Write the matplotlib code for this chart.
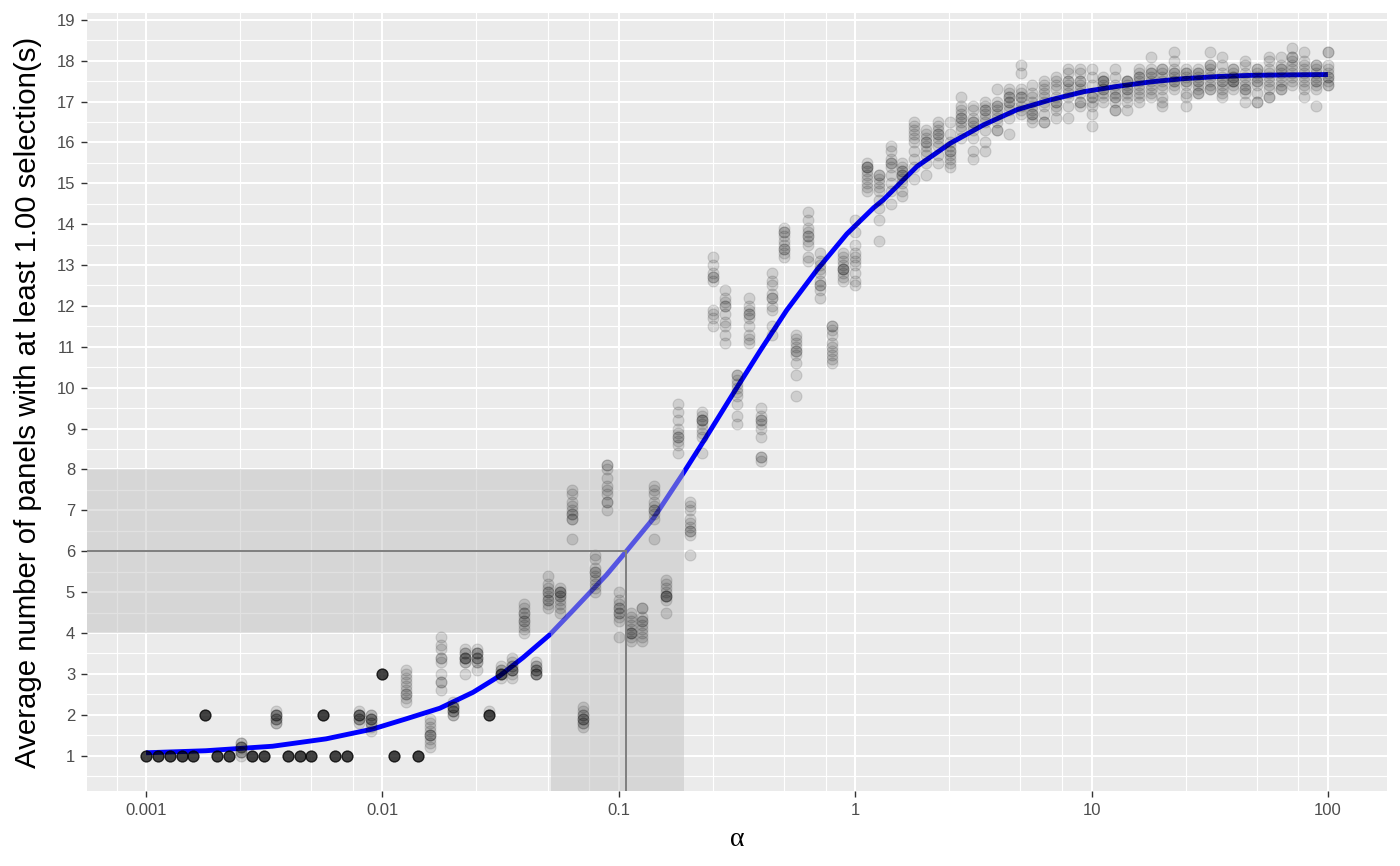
import numpy as np
import matplotlib.pyplot as plt
from matplotlib.ticker import FixedLocator, NullFormatter

plt.rcParams['font.family'] = ['Liberation Sans', 'DejaVu Sans']

# alpha grid: 20 steps per decade, 0.001 .. 100
mantissa = [1.00, 1.122, 1.259, 1.413, 1.585, 1.778, 1.995, 2.239, 2.512, 2.818,
            3.162, 3.548, 3.981, 4.467, 5.012, 5.623, 6.310, 7.079, 7.943, 8.913]
alpha_grid = [m * 10.0 ** d for d in range(-3, 2) for m in mantissa] + [100.0]

# average number of panels with >= 1 selection, 10 repeats per alpha
avg_panels = [
    [1.0] * 10, [1.0] * 10, [1.0] * 10, [1.0] * 10, [1.0] * 10,
    [2.0] * 10, [1.0] * 10, [1.0] * 10,
    [1.0, 1.1, 1.1, 1.2, 1.2, 1.2, 1.3, 1.3, 1.1, 1.2],
    [1.0] * 10, [1.0] * 10,
    [1.8, 1.9, 1.9, 2.0, 2.0, 2.0, 2.1, 1.9, 2.0, 1.8],
    [1.0] * 10, [1.0] * 10, [1.0] * 10, [2.0] * 10, [1.0] * 10, [1.0] * 10,
    [1.9, 2.0, 2.0, 2.0, 1.9, 2.1, 2.0, 1.9, 2.0, 1.8],
    [1.9, 1.9, 2.0, 1.8, 1.7, 1.9, 2.0, 1.8, 1.9, 1.6],
    [3.0] * 10,                                              # 0.01
    [1.0] * 10,
    [2.3, 2.4, 2.5, 2.5, 2.6, 2.7, 2.8, 2.9, 3.0, 3.1],
    [1.0] * 10,
    [1.2, 1.3, 1.4, 1.5, 1.5, 1.5, 1.6, 1.7, 1.8, 1.9],
    [2.6, 2.8, 2.8, 3.0, 3.3, 3.4, 3.4, 3.6, 3.7, 3.9],
    [2.0, 2.1, 2.1, 2.2, 2.2, 2.2, 2.3, 2.1, 2.0, 2.2],
    [3.0, 3.3, 3.4, 3.4, 3.4, 3.5, 3.5, 3.6, 3.3, 3.4],
    [3.1, 3.3, 3.4, 3.4, 3.5, 3.5, 3.6, 3.4, 3.3, 3.5],
    [2.0, 2.0, 2.0, 2.0, 2.0, 2.0, 2.0, 2.0, 2.0, 2.1],
    [2.9, 3.0, 3.0, 3.0, 3.0, 3.0, 3.1, 3.1, 3.2, 3.0],
    [2.9, 3.0, 3.1, 3.1, 3.1, 3.2, 3.2, 3.3, 3.4, 3.1],
    [4.0, 4.1, 4.2, 4.3, 4.3, 4.4, 4.5, 4.5, 4.6, 4.7],
    [3.0, 3.0, 3.0, 3.1, 3.1, 3.1, 3.2, 3.2, 3.3, 3.0],
    [4.6, 4.7, 4.8, 4.8, 4.9, 5.0, 5.0, 5.1, 5.2, 5.4],
    [4.5, 4.6, 4.7, 4.8, 4.9, 4.9, 5.0, 5.0, 5.0, 5.1],
    [6.3, 6.8, 6.8, 6.9, 6.9, 7.0, 7.1, 7.2, 7.4, 7.5],
    [1.7, 1.8, 1.8, 1.9, 1.9, 2.0, 2.0, 2.1, 2.2, 1.9],
    [5.0, 5.1, 5.2, 5.4, 5.5, 5.5, 5.6, 5.8, 5.9, 5.3],
    [7.0, 7.2, 7.2, 7.4, 7.5, 7.6, 7.8, 8.0, 8.1, 8.1],
    [3.9, 4.3, 4.4, 4.5, 4.6, 4.6, 4.7, 4.8, 5.0, 4.5],      # 0.1
    [3.8, 3.9, 4.0, 4.0, 4.1, 4.2, 4.3, 4.4, 4.5, 4.0],
    [3.8, 3.9, 4.0, 4.1, 4.2, 4.3, 4.3, 4.4, 4.6, 4.6],
    [6.3, 6.8, 6.9, 7.0, 7.0, 7.1, 7.2, 7.4, 7.5, 7.6],
    [4.5, 4.8, 4.9, 4.9, 4.9, 5.0, 5.1, 5.2, 5.3, 4.9],
    [8.4, 8.6, 8.7, 8.8, 8.8, 8.9, 9.0, 9.2, 9.4, 9.6],
    [5.9, 6.4, 6.5, 6.5, 6.6, 6.7, 6.8, 7.0, 7.1, 7.2],
    [8.4, 8.8, 8.9, 9.0, 9.2, 9.2, 9.2, 9.3, 9.4, 9.1],
    [11.5, 11.7, 11.8, 11.9, 12.6, 12.7, 12.7, 12.8, 13.0, 13.2],
    [11.1, 11.3, 11.5, 11.6, 11.8, 12.0, 12.0, 12.1, 12.2, 12.4],
    [9.1, 9.3, 9.6, 9.8, 9.9, 10.0, 10.1, 10.2, 10.3, 10.3],
    [11.1, 11.2, 11.3, 11.5, 11.7, 11.8, 11.8, 11.9, 12.0, 12.2],
    [8.2, 8.3, 8.3, 8.8, 9.0, 9.1, 9.2, 9.2, 9.3, 9.5],
    [11.3, 11.5, 11.9, 12.0, 12.2, 12.2, 12.3, 12.5, 12.6, 12.8],
    [13.2, 13.3, 13.4, 13.5, 13.6, 13.7, 13.8, 13.8, 13.9, 13.4],
    [9.8, 10.3, 10.6, 10.8, 10.9, 10.9, 11.0, 11.1, 11.2, 11.3],
    [13.1, 13.2, 13.5, 13.6, 13.7, 13.7, 13.8, 13.9, 14.1, 14.3],
    [12.2, 12.4, 12.5, 12.5, 12.6, 12.8, 12.9, 13.0, 13.1, 13.3],
    [10.6, 10.7, 10.8, 10.9, 11.0, 11.1, 11.3, 11.4, 11.5, 11.5],
    [12.6, 12.7, 12.8, 12.9, 12.9, 13.0, 13.1, 13.2, 13.3, 12.9],
    [12.5, 12.6, 12.8, 13.0, 13.1, 13.2, 13.3, 13.5, 13.8, 14.1],  # 1
    [14.8, 14.9, 15.0, 15.1, 15.2, 15.3, 15.4, 15.4, 15.5, 15.4],
    [13.6, 14.1, 14.4, 14.6, 14.8, 14.9, 15.0, 15.1, 15.2, 15.2],
    [14.5, 14.8, 15.0, 15.2, 15.4, 15.5, 15.5, 15.6, 15.8, 15.9],
    [14.7, 14.8, 15.0, 15.1, 15.2, 15.3, 15.3, 15.4, 15.5, 15.2],
    [15.1, 15.4, 15.6, 15.8, 16.0, 16.1, 16.2, 16.3, 16.4, 16.5],
    [15.2, 15.5, 15.7, 15.8, 15.9, 16.0, 16.0, 16.1, 16.2, 16.3],
    [15.5, 15.7, 15.9, 16.0, 16.1, 16.2, 16.2, 16.3, 16.4, 16.5],
    [15.4, 15.5, 15.6, 15.7, 15.8, 15.8, 15.9, 16.0, 16.2, 16.5],
    [16.1, 16.3, 16.4, 16.5, 16.6, 16.6, 16.7, 16.8, 16.9, 17.1],
    [15.6, 15.8, 16.1, 16.3, 16.4, 16.5, 16.5, 16.6, 16.8, 16.9],
    [15.8, 16.0, 16.3, 16.5, 16.6, 16.7, 16.8, 16.8, 16.9, 17.0],
    [16.3, 16.3, 16.5, 16.6, 16.7, 16.8, 16.9, 16.9, 17.0, 17.3],
    [16.2, 16.6, 16.8, 16.9, 17.0, 17.0, 17.1, 17.1, 17.2, 17.3],
    [16.7, 16.8, 16.9, 17.0, 17.1, 17.1, 17.2, 17.3, 17.7, 17.9],
    [16.5, 16.6, 16.7, 16.7, 16.8, 16.9, 17.0, 17.1, 17.2, 17.4],
    [16.5, 16.5, 16.7, 16.9, 17.0, 17.1, 17.2, 17.3, 17.4, 17.5],
    [16.6, 16.8, 16.9, 17.0, 17.0, 17.1, 17.3, 17.4, 17.5, 17.6],
    [16.6, 16.9, 17.1, 17.2, 17.3, 17.4, 17.5, 17.5, 17.7, 17.8],
    [16.9, 17.0, 17.0, 17.2, 17.3, 17.4, 17.5, 17.5, 17.7, 17.8],
    [16.4, 16.7, 16.9, 17.0, 17.1, 17.1, 17.2, 17.4, 17.6, 17.8],  # 10
    [17.0, 17.1, 17.2, 17.3, 17.4, 17.5, 17.5, 17.5, 17.6, 17.3],
    [16.8, 16.8, 17.0, 17.1, 17.1, 17.2, 17.3, 17.4, 17.6, 17.8],
    [16.8, 17.0, 17.1, 17.2, 17.3, 17.4, 17.5, 17.5, 17.5, 17.3],
    [17.0, 17.1, 17.2, 17.3, 17.4, 17.5, 17.6, 17.6, 17.7, 17.8],
    [17.1, 17.2, 17.3, 17.4, 17.5, 17.6, 17.7, 17.7, 17.8, 18.1],
    [16.9, 17.0, 17.1, 17.3, 17.4, 17.5, 17.6, 17.7, 17.8, 17.8],
    [17.3, 17.4, 17.5, 17.5, 17.6, 17.7, 17.7, 17.8, 18.0, 18.2],
    [16.9, 17.1, 17.2, 17.4, 17.5, 17.6, 17.7, 17.7, 17.8, 17.5],
    [17.2, 17.2, 17.3, 17.4, 17.5, 17.6, 17.7, 17.7, 17.8, 17.5],
    [17.3, 17.3, 17.4, 17.5, 17.6, 17.7, 17.8, 17.9, 17.9, 18.2],
    [17.1, 17.2, 17.3, 17.4, 17.5, 17.5, 17.6, 17.7, 17.9, 18.1],
    [17.3, 17.4, 17.5, 17.5, 17.6, 17.6, 17.7, 17.8, 17.8, 17.5],
    [17.0, 17.2, 17.3, 17.3, 17.4, 17.5, 17.6, 17.7, 17.9, 18.0],
    [17.0, 17.0, 17.2, 17.4, 17.5, 17.6, 17.7, 17.8, 17.8, 17.5],
    [17.1, 17.1, 17.3, 17.4, 17.5, 17.6, 17.7, 17.8, 18.0, 18.1],
    [17.3, 17.3, 17.4, 17.5, 17.6, 17.7, 17.8, 17.8, 17.9, 18.1],
    [17.4, 17.5, 17.6, 17.7, 17.8, 17.9, 18.0, 18.1, 18.1, 18.3],
    [17.1, 17.3, 17.4, 17.5, 17.6, 17.7, 17.8, 17.9, 18.0, 18.2],
    [16.9, 17.3, 17.4, 17.5, 17.6, 17.7, 17.8, 17.9, 17.9, 17.5],
    [17.4, 17.4, 17.5, 17.6, 17.7, 17.8, 17.9, 18.2, 18.2, 17.6],  # 100
]

# fitted curve
curve_alpha = [0.001, 0.00179, 0.00343, 0.00577, 0.00909, 0.0126, 0.0175, 0.0242,
               0.0313, 0.0394, 0.0511, 0.064, 0.0887, 0.107, 0.14, 0.187, 0.236,
               0.305, 0.396, 0.514, 0.689, 0.922, 1.197, 1.319, 1.824, 2.53, 3.50,
               4.84, 6.70, 9.27, 12.84, 17.8, 24.6, 34.1, 47.2, 65.3, 100.0]
curve_panels = [1.07, 1.12, 1.23, 1.41, 1.65, 1.90, 2.16, 2.55,
                2.95, 3.40, 3.96, 4.55, 5.42, 5.98, 6.80, 7.90, 8.82,
                9.86, 10.90, 11.90, 12.88, 13.76, 14.40, 14.60, 15.41, 15.98, 16.43,
                16.80, 17.04, 17.24, 17.37, 17.48, 17.56, 17.61, 17.64, 17.65, 17.66]

# highlighted target region
target_y = 6
target_band = (4, 8)
alpha_hit = 0.107
alpha_band = (0.0515, 0.188)

xlim = (10 ** -3.25, 10 ** 2.25)
ylim = (0.135, 19.165)

fig = plt.figure(figsize=(14, 8.66), dpi=100)
ax = fig.add_axes([0.0621, 0.0866, 0.9286, 0.8984])
ax.set_facecolor('#EBEBEB')
for s in ax.spines.values():
    s.set_visible(False)

ax.set_xscale('log')
ax.set_xlim(*xlim)
ax.set_ylim(*ylim)

major_x = [0.001, 0.01, 0.1, 1, 10, 100]
minor_x = [m * 10.0 ** d for d in range(-4, 2) for m in (2.5, 5, 7.5)]
minor_x = [v for v in minor_x if xlim[0] < v < xlim[1]]
ax.xaxis.set_major_locator(FixedLocator(major_x))
ax.xaxis.set_minor_locator(FixedLocator(minor_x))
ax.xaxis.set_minor_formatter(NullFormatter())
ax.set_xticklabels(['0.001', '0.01', '0.1', '1', '10', '100'])
ax.yaxis.set_major_locator(FixedLocator(range(1, 20)))
ax.yaxis.set_minor_locator(FixedLocator(np.arange(0.5, 19.5, 1.0)))

ax.grid(which='major', color='white', linewidth=1.5)
ax.grid(which='minor', color='white', linewidth=0.8)
ax.set_axisbelow(True)
ax.tick_params(which='major', length=4, width=1.0, color='#333333',
               labelsize=12, labelcolor='#4D4D4D', pad=4.5)
ax.tick_params(which='minor', length=0)

# curve
ax.plot(curve_alpha, curve_panels, color='#0000FF', linewidth=3.5,
        solid_capstyle='butt', solid_joinstyle='round', zorder=2)

# shaded L-shaped region (single patch, no double overlap)
ax.fill([xlim[0], alpha_band[1], alpha_band[1], alpha_band[0], alpha_band[0], xlim[0]],
        [target_band[1], target_band[1], ylim[0], ylim[0], target_band[0], target_band[0]],
        color='#BEBEBE', alpha=0.45, linewidth=0, zorder=3)

# points
for a, vals in zip(alpha_grid, avg_panels):
    ax.scatter([a] * len(vals), vals, s=62, color='black', alpha=0.12,
               linewidths=0.8, zorder=4)

# target lines
ax.plot([xlim[0], alpha_hit], [target_y, target_y], color='#7F7F7F', linewidth=1.4, zorder=5)
ax.plot([alpha_hit, alpha_hit], [ylim[0], target_y], color='#7F7F7F', linewidth=1.4, zorder=5)

ax.set_xlabel('α', fontsize=20, family=['Liberation Serif', 'DejaVu Serif'], va='center')
ax.xaxis.set_label_coords(0.5, -0.062)
ax.set_ylabel('Average number of panels with at least 1.00 selection(s)', fontsize=21.2,
              va='center')
ax.yaxis.set_label_coords(-0.0454, 0.5)

fig.savefig('out.png', dpi=100)
